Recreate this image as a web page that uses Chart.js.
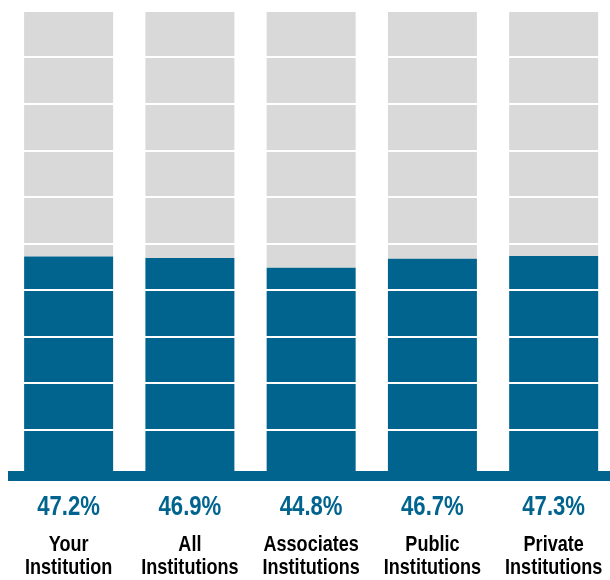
<!DOCTYPE html>
<html>
<head>
<meta charset="utf-8">
<script src="https://cdn.jsdelivr.net/npm/chart.js@4"></script>
<style>
  html, body { margin: 0; padding: 0; background: #fff; overflow: hidden; }
  #wrap { width: 615px; height: 580px; }
</style>
</head>
<body>
<div id="wrap"><canvas id="rate_Chart"></canvas></div>
<script>
const categories = [['Your', 'Institution'], ['All', 'Institutions'], ['Associates', 'Institutions'], ['Public', 'Institutions'], ['Private', 'Institutions']];
const rate_data = [47.2, 46.9, 44.8, 46.7, 47.3];
const y_max = 100;

const blue = '#00648F';
const gray = '#D9D9D9';
const font_family = "'Liberation Sans', Arial, sans-serif";

// narrow text: regular font squeezed horizontally
function narrowText(ctx, text, x, y) {
  ctx.save();
  ctx.translate(x, y);
  ctx.scale(0.82, 1);
  ctx.fillText(text, 0, 0);
  ctx.restore();
}

// values + labels under each bar
const bottomLabels = {
  id: 'bottomLabels',
  afterDraw(chart) {
    const ctx = chart.ctx;
    const x = chart.scales.x;
    ctx.save();
    ctx.textAlign = 'center';
    ctx.textBaseline = 'middle';
    rate_data.forEach(function(v, i) {
      const px = x.getPixelForValue(i);
      ctx.fillStyle = blue;
      ctx.font = 'bold 27px ' + font_family;
      narrowText(ctx, v.toFixed(1) + '%', px, 508);
      ctx.fillStyle = '#000';
      ctx.font = 'bold 22px ' + font_family;
      narrowText(ctx, categories[i][0], px, 545);
      narrowText(ctx, categories[i][1], px, 568);
    });
    ctx.restore();
  }
};

const data = {
  labels: categories,
  datasets: [{
    label: 'Rate',
    backgroundColor: blue,
    data: rate_data,
  }, {
    label: 'Remainder',
    backgroundColor: gray,
    data: rate_data.map(v => y_max - v),
  }]
};

const config_bar = {
  type: 'bar',
  data: data,
  options: {
    responsive: true,
    maintainAspectRatio: false,
    animation: false,
    layout: { padding: { top: 11, left: 8, right: 0.7, bottom: 104 } },
    datasets: { bar: { categoryPercentage: 1, barPercentage: 0.734 } },
    plugins: { legend: { display: false }, tooltip: { enabled: false } },
    scales: {
      x: { stacked: true, display: false },
      y: {
        stacked: true,
        min: 0,
        max: y_max,
        ticks: { display: false, stepSize: 10 },
        border: { display: false },
        grid: {
          z: 1,
          drawTicks: false,
          color: c => c.tick.value === 0 ? blue : '#fff',
          lineWidth: c => c.tick.value === 0 ? 10 : 2
        },
        afterFit: s => { s.width = 0; }
      }
    }
  },
  plugins: [bottomLabels]
};

let myChart = new Chart(document.getElementById('rate_Chart'), config_bar);
</script>
</body>
</html>
